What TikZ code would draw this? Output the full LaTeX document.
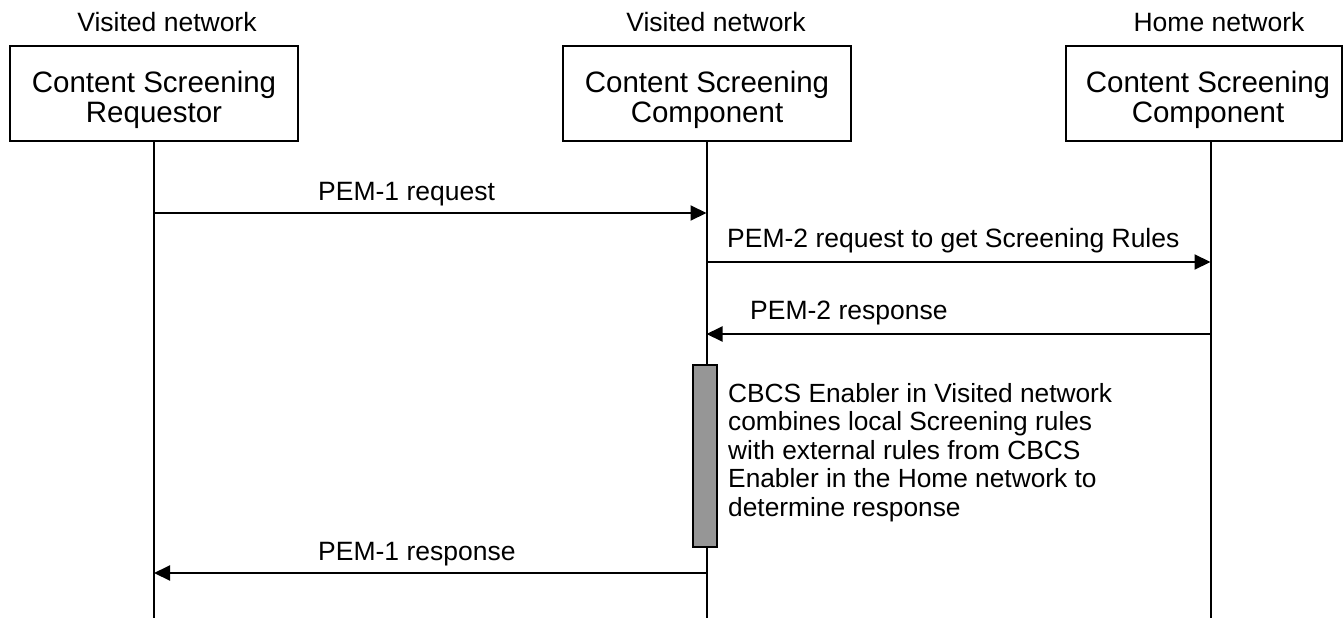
\documentclass[tikz,border=0pt]{standalone}
\usepackage{fontspec}
\setmainfont{Liberation Sans}
\usetikzlibrary{arrows.meta,positioning}
\definecolor{barfill}{RGB}{150,150,150}
\tikzset{
  entity/.style={thick, shape=rectangle, draw=black, line width=2pt, minimum width=288pt, minimum height=95pt},
  entitytext/.style={align=center, inner sep=0pt, font=\fontsize{29.5}{30}\selectfont},
  netlabel/.style={anchor=base, inner sep=0pt, font=\fontsize{26.5}{30}\selectfont},
  lifeline/.style={line width=2pt},
  msg/.style={line width=2pt, -{Triangle[length=16pt,width=15pt]}},
  msglabel/.style={anchor=base west, inner sep=0pt, font=\fontsize{26.5}{30}\selectfont},
  activity/.style={draw=black, line width=2pt, fill=barfill, minimum width=24pt, minimum height=182pt, inner sep=0pt},
}
\begin{document}
\begin{tikzpicture}[x=1pt, y=-1pt]
\useasboundingbox (0,0) rectangle (1343,618);
\node[entity] (req) at (154,93.5) {};
\node[entity] (vcsc) at (707,93.5) {};
\node[entity, minimum width=276pt] (hcsc) at (1204,93.5) {};
\node[entitytext] (req-text) at ([yshift=-6pt]req.center) {Content Screening\\Requestor};
\node[entitytext] (vcsc-text) at ([yshift=-6pt]vcsc.center) {Content Screening\\Component};
\node[entitytext] (hcsc-text) at ([yshift=-6pt,xshift=4pt]hcsc.center) {Content Screening\\Component};
\node[netlabel] (req-net) at (167,32) {Visited network};
\node[netlabel] (vcsc-net) at (716,32) {Visited network};
\node[netlabel] (hcsc-net) at (1219,32) {Home network};
\coordinate (req-end) at (154,618);
\coordinate (vcsc-end) at (706.5,618);
\coordinate (hcsc-end) at (1210.5,618);
\draw[lifeline] (req-end |- req.south) -- (req-end);
\draw[lifeline] (vcsc-end |- vcsc.south) -- (vcsc-end);
\draw[lifeline] (hcsc-end |- hcsc.south) -- (hcsc-end);
\coordinate (m1) at (0,213);
\coordinate (m2) at (0,262);
\coordinate (m3) at (0,334);
\coordinate (m4) at (0,573);
\draw[msg] (req-end |- m1) -- (vcsc-end |- m1);
\draw[msg] (vcsc-end |- m2) -- (hcsc-end |- m2);
\draw[msg] (hcsc-end |- m3) -- (vcsc-end |- m3);
\draw[msg] (vcsc-end |- m4) -- (req-end |- m4);
\node[msglabel] (m1-label) at (318,200) {PEM-1 request};
\node[msglabel] (m2-label) at (727,247) {PEM-2 request to get Screening Rules};
\node[msglabel] (m3-label) at (750,319) {PEM-2 response};
\node[msglabel] (m4-label) at (318,560) {PEM-1 response};
\node[activity] (combine) at (704.5,456) {};
\node[anchor=north west, align=left, inner sep=0pt, font=\fontsize{26.3}{28.5}\selectfont] (combine-note) at (728,383) {CBCS Enabler in Visited network\\combines local Screening rules\\with external rules from CBCS\\Enabler in the Home network to\\determine response};
\end{tikzpicture}
\end{document}
